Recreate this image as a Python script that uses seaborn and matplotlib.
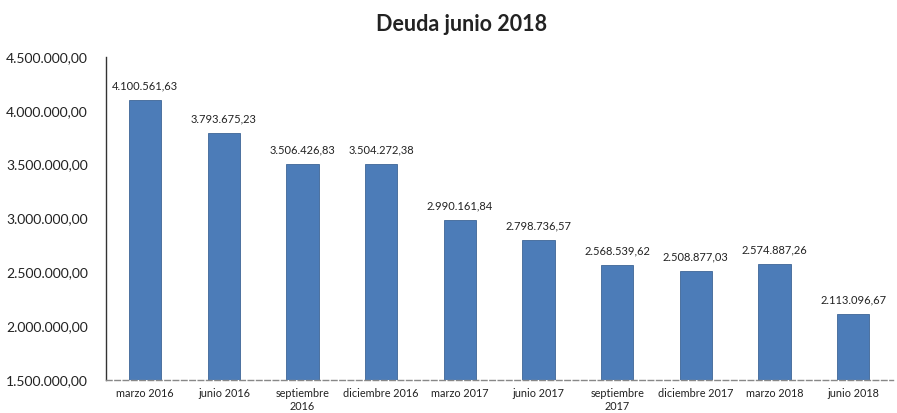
import matplotlib
matplotlib.use("Agg")
import matplotlib.pyplot as plt
import seaborn as sns
import pandas as pd

periodos = ['marzo 2016', 'junio 2016', 'septiembre\n2016', 'diciembre 2016',
            'marzo 2017', 'junio 2017', 'septiembre\n2017', 'diciembre 2017',
            'marzo 2018', 'junio 2018']
deuda = [4100561.63, 3793675.23, 3506426.83, 3504272.38, 2990161.84,
         2798736.57, 2568539.62, 2508877.03, 2574887.26, 2113096.67]
y_ticks = [1500000, 2000000, 2500000, 3000000, 3500000, 4000000, 4500000]


def fmt_es(v):
    s = f"{v:,.2f}"
    return s.replace(",", "X").replace(".", ",").replace("X", ".")


df = pd.DataFrame({'Periodo': periodos, 'Deuda': deuda})

sns.set_style("white")
plt.rcParams['font.family'] = ['Lato', 'DejaVu Sans']

fig = plt.figure(figsize=(8.97, 4.13), dpi=100)
ax = fig.add_axes([0.118, 0.080, 0.877, 0.782])

sns.barplot(data=df, x='Periodo', y='Deuda', color='#4c7cb8', width=0.41,
            saturation=1, ax=ax, edgecolor='#3d6596', linewidth=0.6)

for i, v in enumerate(deuda):
    ax.text(i, v + 80000, fmt_es(v), ha='center', va='bottom',
            fontsize=8, color='#222222')

ax.set_ylim(1500000, 4500000)
ax.set_xlim(-0.5, 9.5)
ax.set_yticks(y_ticks)
ax.set_yticklabels([fmt_es(t) for t in y_ticks], fontsize=10, color='#222222')
ax.tick_params(axis='x', labelsize=7.8, colors='#222222', length=0, pad=6)
ax.tick_params(axis='y', length=0, pad=13)
ax.set_xlabel('')
ax.set_ylabel('')

sns.despine(ax=ax, top=True, right=True)
ax.spines['left'].set_color('#333333')
ax.spines['left'].set_linewidth(1.0)
ax.spines['bottom'].set_color('#888888')
ax.spines['bottom'].set_linestyle((0, (4, 2)))
ax.spines['bottom'].set_linewidth(1.0)

fig.suptitle('Deuda junio 2018', x=0.515, y=0.965, fontsize=15.5,
             fontweight='bold', color='#222222')

fig.savefig('out.png', dpi=100, facecolor='white')
